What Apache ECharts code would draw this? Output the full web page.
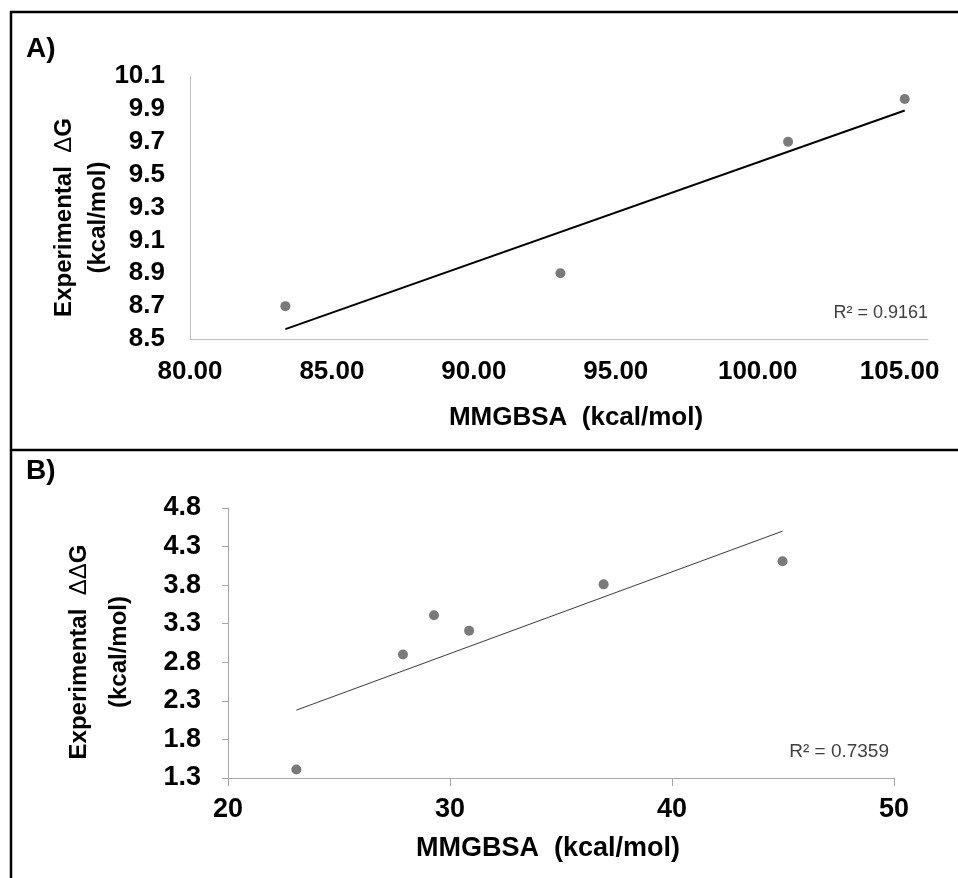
<!DOCTYPE html>
<html>
<head>
<meta charset="utf-8">
<title>MMGBSA vs experimental</title>
<script src="https://cdn.jsdelivr.net/npm/echarts@6/dist/echarts.min.js"></script>
<style>
  html, body { margin: 0; padding: 0; background: #fff; }
  #chart { width: 958px; height: 878px; }
</style>
</head>
<body>
<div id="chart"></div>
<script>
const FONT = '"Liberation Sans", Arial, sans-serif';

// panel A: MMGBSA vs experimental dG
const pointsA = [[83.36, 8.70], [93.05, 8.90], [101.07, 9.70], [105.18, 9.96]];
const trendA = [[83.36, 8.56], [105.18, 9.89]];
const r2A = 'R² = 0.9161';

// panel B: MMGBSA vs experimental ddG
const pointsB = [[23.08, 1.41], [27.88, 2.90], [29.28, 3.41], [30.86, 3.21], [36.92, 3.81], [44.98, 4.11]];
const trendB = [[23.08, 2.18], [44.98, 4.50]];
const r2B = 'R² = 0.7359';

const xTitle = 'MMGBSA  (kcal/mol)';

function richName(delta, lh) {
  return {
    text: '{b|Experimental  }{d|' + delta + '}{b|G}\n{b|(kcal/mol)}',
    rich: {
      b: { fontFamily: FONT, fontSize: 24, fontWeight: 'bold', color: '#000', lineHeight: lh },
      d: { fontFamily: FONT, fontSize: 24, fontWeight: 'normal', color: '#000', lineHeight: lh },
    },
  };
}

const nameA = richName('Δ', 34);
const nameB = richName('ΔΔ', 40);

const chart = echarts.init(document.getElementById('chart'), null, { renderer: 'canvas' });

const option = {
  animation: false,
  backgroundColor: '#fff',
  grid: [
    { left: 190, top: 76, width: 738, height: 263 },
    { left: 228, top: 508, width: 666, height: 270 },
  ],
  xAxis: [
    {
      gridIndex: 0, type: 'value', min: 80, max: 106, interval: 5,
      axisLine: { lineStyle: { color: '#bfbfbf', width: 1 } },
      axisTick: { show: false },
      splitLine: { show: false },
      axisLabel: {
        margin: 20, showMaxLabel: false, color: '#000',
        fontFamily: FONT, fontSize: 26, fontWeight: 'bold',
        formatter: v => v.toFixed(2),
      },
      name: xTitle, nameLocation: 'middle', nameGap: 66,
      nameTextStyle: { fontFamily: FONT, fontSize: 26, fontWeight: 'bold', color: '#000', padding: [0, 0, 0, 34] },
    },
    {
      gridIndex: 1, type: 'value', min: 20, max: 50, interval: 10,
      axisLine: { lineStyle: { color: '#a6a6a6', width: 1 } },
      axisTick: { show: true, length: 8, lineStyle: { color: '#a6a6a6' } },
      splitLine: { show: false },
      axisLabel: {
        margin: 18, color: '#000',
        fontFamily: FONT, fontSize: 27, fontWeight: 'bold',
      },
      name: xTitle, nameLocation: 'middle', nameGap: 57,
      nameTextStyle: { fontFamily: FONT, fontSize: 27, fontWeight: 'bold', color: '#000', padding: [0, 26, 0, 0] },
    },
  ],
  yAxis: [
    {
      gridIndex: 0, type: 'value', min: 8.5, max: 10.1, interval: 0.2,
      axisLine: { show: true, lineStyle: { color: '#bfbfbf', width: 1 } },
      axisTick: { show: false },
      splitLine: { show: false },
      axisLabel: {
        margin: 25, color: '#000',
        fontFamily: FONT, fontSize: 26, fontWeight: 'bold',
        formatter: v => v.toFixed(1),
      },
      name: nameA.text, nameLocation: 'middle', nameRotate: 90, nameGap: 75,
      nameMoveOverlap: false,
      nameTextStyle: { rich: nameA.rich, padding: [0, 20, 0, 0] },
    },
    {
      gridIndex: 1, type: 'value', min: 1.3, max: 4.8, interval: 0.5,
      axisLine: { show: true, lineStyle: { color: '#a6a6a6', width: 1 } },
      axisTick: { show: true, length: 6, lineStyle: { color: '#a6a6a6' } },
      splitLine: { show: false },
      axisLabel: {
        margin: 27, color: '#000',
        fontFamily: FONT, fontSize: 27, fontWeight: 'bold',
        formatter: v => v.toFixed(1),
      },
      name: nameB.text, nameLocation: 'middle', nameRotate: 90, nameGap: 89,
      nameMoveOverlap: false,
      nameTextStyle: { rich: nameB.rich, padding: [0, 18, 0, 0] },
    },
  ],
  series: [
    {
      type: 'line', xAxisIndex: 0, yAxisIndex: 0, data: trendA,
      showSymbol: false, lineStyle: { color: '#000', width: 2 }, z: 2,
    },
    {
      type: 'scatter', xAxisIndex: 0, yAxisIndex: 0, data: pointsA,
      symbolSize: 10, itemStyle: { color: '#595959' }, z: 3,
    },
    {
      type: 'line', xAxisIndex: 1, yAxisIndex: 1, data: trendB,
      showSymbol: false, lineStyle: { color: '#3a3a3a', width: 1 }, z: 2,
    },
    {
      type: 'scatter', xAxisIndex: 1, yAxisIndex: 1, data: pointsB,
      symbolSize: 10, itemStyle: { color: '#595959' }, z: 3,
    },
  ],
  graphic: [
    // frame: top edge, divider, left edge
    { type: 'line', shape: { x1: 10, y1: 12, x2: 958, y2: 12 }, style: { stroke: '#000', lineWidth: 2.5 } },
    { type: 'line', shape: { x1: 10, y1: 450, x2: 958, y2: 450 }, style: { stroke: '#000', lineWidth: 2.5 } },
    { type: 'line', shape: { x1: 11, y1: 11, x2: 11, y2: 878 }, style: { stroke: '#000', lineWidth: 2.5 } },
    {
      type: 'text', left: 26, top: 35,
      style: { text: 'A)', font: 'bold 28px ' + FONT, fill: '#000' },
    },
    {
      type: 'text', left: 26, top: 457,
      style: { text: 'B)', font: 'bold 28px ' + FONT, fill: '#000' },
    },
    {
      type: 'text', right: 958 - 928, top: 304,
      style: { text: r2A, font: '18px ' + FONT, fill: '#404040' },
    },
    {
      type: 'text', right: 958 - 889, top: 742,
      style: { text: r2B, font: '19px ' + FONT, fill: '#404040' },
    },
  ],
};

chart.setOption(option);
</script>
</body>
</html>
